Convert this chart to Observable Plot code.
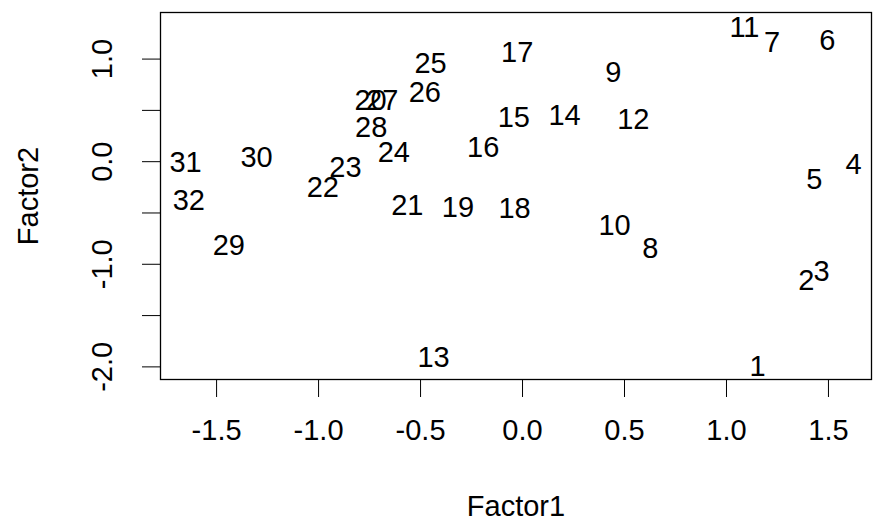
<!DOCTYPE html>
<html>
<head>
<meta charset="utf-8">
<script src="https://cdn.jsdelivr.net/npm/d3@7"></script>
<script src="https://cdn.jsdelivr.net/npm/@observablehq/plot@0.6"></script>
<style>
  html, body { margin: 0; padding: 0; background: #fff; }
  svg { font-family: "Liberation Sans", Arial, sans-serif; }
</style>
</head>
<body>
<div id="chart"></div>
<script>
const ids = ["1","2","3","4","5","6","7","8","9","10","11","12","13","14","15","16",
             "17","18","19","20","21","22","23","24","25","26","27","28","29","30","31","32"];
const factor1 = [1.152, 1.392, 1.466, 1.623, 1.431, 1.494, 1.224, 0.627, 0.445, 0.451, 1.088, 0.543,
                 -0.436, 0.206, -0.043, -0.193, -0.026, -0.039, -0.317, -0.745, -0.565, -0.979,
                 -0.868, -0.631, -0.451, -0.479, -0.688, -0.742, -1.440, -1.304, -1.652, -1.636];
const factor2 = [-1.996, -1.159, -1.071, -0.029, -0.178, 1.178, 1.162, -0.850, 0.870, -0.623, 1.308, 0.406,
                 -1.908, 0.448, 0.431, 0.139, 1.064, -0.461, -0.445, 0.594, -0.428, -0.250,
                 -0.055, 0.091, 0.951, 0.675, 0.594, 0.334, -0.818, 0.042, -0.007, -0.380];
const xTicks = [-1.5, -1.0, -0.5, 0.0, 0.5, 1.0, 1.5];
const xTickLabels = ["-1.5", "-1.0", "-0.5", "0.0", "0.5", "1.0", "1.5"];
const yTicks = [-2.0, -1.5, -1.0, -0.5, 0.0, 0.5, 1.0];
const yLabelTicks = [-2.0, -1.0, 0.0, 1.0];
const yTickLabels = ["-2.0", "-1.0", "0.0", "1.0"];
const xTitle = "Factor1";
const yTitle = "Factor2";

const points = ids.map((id, i) => ({id, f1: factor1[i], f2: factor2[i]}));
const FS = 29;

const chart = Plot.plot({
  width: 873,
  height: 531,
  marginLeft: 160,
  marginRight: 2,
  marginTop: 12,
  marginBottom: 152,
  style: {background: "#fff", fontFamily: "Liberation Sans, Arial, sans-serif"},
  x: {domain: [-1.775, 1.711], ticks: xTicks, tickSize: 18, tickFormat: () => "", label: null},
  y: {domain: [-2.123, 1.454], ticks: yTicks, tickSize: 18, tickFormat: () => "", label: null},
  marks: [
    Plot.frame({stroke: "#000", strokeWidth: 1.3}),
    Plot.text(points, {x: "f1", y: "f2", text: "id", fontSize: FS, fill: "#000"}),
    Plot.text(xTicks, {x: d => d, text: (d, i) => xTickLabels[i], frameAnchor: "bottom", dy: 60, fontSize: FS, fill: "#000"}),
    Plot.text(yLabelTicks, {y: d => d, text: (d, i) => yTickLabels[i], frameAnchor: "left", textAnchor: "middle", dx: -58, rotate: -90, fontSize: FS, fill: "#000"}),
    Plot.text([xTitle], {text: d => d, frameAnchor: "bottom", dy: 136, fontSize: FS, fill: "#000"}),
    Plot.text([yTitle], {text: d => d, frameAnchor: "left", textAnchor: "middle", dx: -132, rotate: -90, fontSize: FS, fill: "#000"})
  ]
});
document.getElementById("chart").appendChild(chart);
</script>
</body>
</html>
